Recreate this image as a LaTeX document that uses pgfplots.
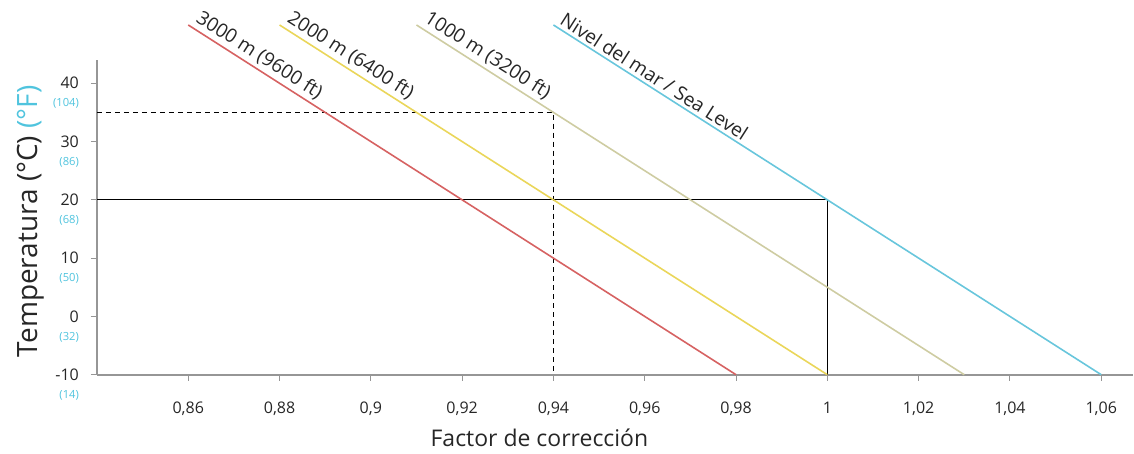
\documentclass[border=0pt]{standalone}
\usepackage{pgfplots}
\pgfplotsset{compat=1.18}
\usepackage{fontspec}
\setmainfont{Open Sans}
\definecolor{cRed}{RGB}{214,98,98}
\definecolor{cYel}{RGB}{234,214,90}
\definecolor{cOli}{RGB}{206,204,162}
\definecolor{cBlu}{RGB}{104,198,220}
\definecolor{cF}{RGB}{80,196,222}
\definecolor{axg}{RGB}{150,150,150}
\newcommand{\Fl}[1]{\llap{\raisebox{-9pt}[0pt][0pt]{\fontsize{5.6}{6}\selectfont\color{cF}(#1)}}}
\begin{document}
\begin{tikzpicture}
\begin{axis}[
  scale only axis,
  width=518.5pt, height=157.5pt,
  xmin=0.84, xmax=1.067, ymin=-10, ymax=44,
  axis x line=bottom, axis y line=left,
  axis line style={draw=axg, line width=0.8pt, -},
  clip=false,
  xtick={0.86,0.88,0.9,0.92,0.94,0.96,0.98,1,1.02,1.04,1.06},
  xticklabels={{0,86},{0,88},{0,9},{0,92},{0,94},{0,96},{0,98},{1},{1,02},{1,04},{1,06}},
  ytick={-10,0,10,20,30,40},
  yticklabels={{-10\Fl{14}},{0\Fl{32}},{10\Fl{50}},{20\Fl{68}},{30\Fl{86}},{40\Fl{104}}},
  tick style={draw=axg, line width=0.5pt},
  major tick length=3pt,
  xtick align=outside, ytick align=outside,
  tick label style={font=\fontsize{8}{8}\selectfont, text=black!85},
  xticklabel style={yshift=-7pt},
  yticklabel style={xshift=-2.5pt},
  xlabel={Factor de corrección},
  xlabel style={font=\fontsize{11.5}{13}\selectfont, at={(ticklabel cs:0.427)}, anchor=north, yshift=0pt, text=black!85},
  ylabel={Temperatura (°C) {\color{cF}(°F)}},
  ylabel style={font=\fontsize{14}{16}\selectfont, text=black!85, yshift=-1pt, xshift=-2pt},
]
\path (rel axis cs:0,1) ++(-48.5pt,30pt);
% guide lines
\addplot[black, line width=0.5pt, dashed, dash pattern=on 2.5pt off 2pt] coordinates {(0.84,35) (0.94,35) (0.94,-10)};
\addplot[black, line width=0.5pt] coordinates {(0.84,20) (1.0,20) (1.0,-10)};
% altitude lines (factor, temperature)
\addplot[cRed, line width=0.8pt] coordinates {(0.86,50) (0.98,-10)}
  node[pos=0, sloped, anchor=south west, font=\fontsize{9.6}{10}\selectfont, inner sep=1.5pt, text=black!85] {3000 m (9600 ft)};
\addplot[cYel, line width=0.8pt] coordinates {(0.88,50) (1.00,-10)}
  node[pos=0, sloped, anchor=south west, font=\fontsize{9.6}{10}\selectfont, inner sep=1.5pt, text=black!85] {2000 m (6400 ft)};
\addplot[cOli, line width=0.8pt] coordinates {(0.91,50) (1.03,-10)}
  node[pos=0, sloped, anchor=south west, font=\fontsize{9.6}{10}\selectfont, inner sep=1.5pt, text=black!85] {1000 m (3200 ft)};
\addplot[cBlu, line width=0.8pt] coordinates {(0.94,50) (1.06,-10)}
  node[pos=0, sloped, anchor=south west, font=\fontsize{9.6}{10}\selectfont, inner sep=1.5pt, text=black!85] {Nivel del mar / Sea Level};
\end{axis}
\end{tikzpicture}
\end{document}
